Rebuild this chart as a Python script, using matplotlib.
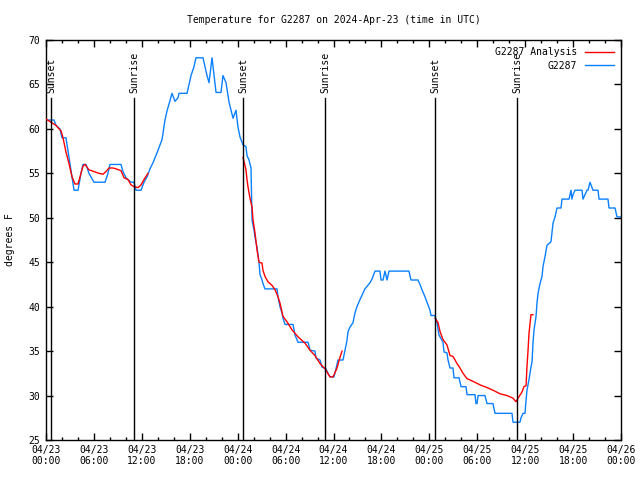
import matplotlib
matplotlib.use("Agg")
import matplotlib.pyplot as plt
import matplotlib.dates as mdates
from matplotlib.ticker import MultipleLocator
import pandas as pd

# ---------------- data (hours since 2024-04-23 00:00 UTC) ----------------
obs_hours = [0, 1.00, 1.25, 1.75, 2.00, 2.50, 3.01, 3.51, 4.01, 4.38, 4.63, 5.01, 5.38, 6.01,
             7.39, 7.76, 8.01, 9.39, 9.64, 10.02, 10.64, 11.02, 11.27, 11.90, 12.27, 12.65,
             13.02, 13.40, 13.90, 14.53, 14.90, 15.15, 15.53, 15.78, 16.15, 16.53, 16.65,
             17.66, 17.91, 18.16, 18.53, 18.78, 19.66, 19.91, 20.16, 20.41, 20.79, 21.04,
             21.29, 21.91, 22.16, 22.54, 22.92, 23.42, 23.79, 24.04, 24.29, 24.67, 25.04,
             25.17, 25.42, 25.67, 25.80, 26.05, 26.17, 26.42, 26.67, 26.80, 27.05, 27.17,
             27.42, 28.93, 29.05, 29.30, 29.55, 29.68, 29.93, 30.93, 31.18, 31.56, 32.81,
             33.06, 33.68, 33.81, 34.31, 34.56, 35.06, 35.31, 35.56, 36.06, 36.31, 36.56,
             37.19, 37.44, 37.69, 37.82, 38.07, 38.44, 38.69, 38.94, 39.32, 39.69, 39.94,
             40.57, 40.82, 41.20, 41.82, 41.95, 42.20, 42.45, 42.70, 42.95, 45.45, 45.70,
             46.58, 46.83, 47.08, 47.46, 47.71, 48.08, 48.21, 48.71, 48.96, 49.21, 49.34,
             49.71, 49.84, 50.21, 50.34, 50.59, 50.96, 51.09, 51.72, 51.97, 52.59, 52.72,
             53.72, 53.84, 53.97, 54.10, 54.97, 55.22, 55.97, 56.22, 58.35, 58.48, 59.35,
             59.48, 59.73, 59.98, 60.11, 60.23, 60.48, 60.73, 60.86, 60.98, 61.11, 61.36,
             61.48, 61.61, 61.86, 62.11, 62.23, 62.48, 62.73, 63.23, 63.36, 63.49, 63.74,
             63.99, 64.49, 64.61, 65.49, 65.61, 65.74, 65.86, 65.99, 66.24, 67.12, 67.24,
             67.49, 67.74, 67.87, 68.12, 68.37, 68.49, 69.12, 69.25, 70.37, 70.50, 71.25,
             71.50, 72.00]
obs_temp = [61, 61, 60.4, 60, 59, 59, 56, 53.1, 53.1, 55, 56, 56, 55, 54,
            54, 55, 56, 56, 55.2, 54.5, 54, 54, 53.1, 53.1, 54, 54.6,
            55.5, 56.2, 57.3, 58.8, 61, 62, 63.2, 64, 63.1, 63.5, 64,
            64, 65, 66, 67, 68, 68, 67, 66, 65.2, 68, 66,
            64.1, 64.1, 66, 65.2, 63, 61.2, 62.1, 60.2, 59.1, 58.2, 58,
            57, 56.5, 55.6, 49.7, 48.6, 47.8, 46.7, 45, 43.6, 43, 42.6,
            42, 42, 41.1, 40, 39.3, 38.7, 38, 38, 36.8, 36, 36,
            35.1, 35, 34.2, 34, 33.2, 33, 32.5, 32.1, 32.1, 33, 34,
            34, 35.1, 36.2, 37.2, 37.7, 38.2, 39.3, 40, 40.8, 41.5, 42,
            42.7, 43.1, 44, 44, 43, 43, 44, 43, 44, 44, 43,
            43, 42.5, 41.9, 41.1, 40.5, 39.6, 39, 39, 38.2, 36.8, 36.6,
            36, 34.9, 34.8, 34, 33.1, 33.1, 32, 32, 31, 31, 30.1,
            30.1, 29.1, 29.1, 30, 30, 29.1, 29.1, 28, 28, 27, 27,
            27.5, 28, 28, 29.5, 30.6, 31.8, 33.2, 33.8, 35.9, 37.4, 38.9,
            40.4, 41.5, 42.6, 43.4, 44.5, 45.6, 46.9, 47.3, 48.3, 49.4, 50.1,
            51.1, 51.1, 52.1, 52.1, 52.6, 53.1, 52.1, 52.6, 53.1, 53.1, 52.1,
            52.6, 53.1, 53.1, 54, 53.4, 53.1, 53.1, 52.1, 52.1, 51.1, 51.1,
            50.1, 50.1]

ana1_hours = [0, 1.25, 1.63, 1.88, 2.13, 2.50, 2.88, 3.26, 3.63, 4.01, 4.26, 4.63, 4.88,
              5.38, 6.01, 6.64, 7.14, 7.51, 7.89, 8.39, 8.77, 9.39, 9.77, 10.27, 10.64,
              11.02, 11.52, 11.90, 12.27, 12.77]
ana1_temp = [61.1, 60.4, 60, 59.8, 59, 57.4, 56.1, 54.6, 53.8, 53.8, 54.6, 55.8, 56,
             55.4, 55.2, 55, 54.9, 55.2, 55.6, 55.6, 55.5, 55.3, 54.5, 54.3, 53.7,
             53.5, 53.4, 53.7, 54.3, 55]
ana2_hours = [24.67, 25.04, 25.17, 25.29, 25.54, 25.80, 25.92, 26.17, 26.42, 26.67, 27.05,
              27.17, 27.42, 27.80, 28.30, 28.68, 29.05, 29.30, 29.68, 30.18, 30.80, 31.56,
              32.43, 33.06, 33.68, 34.31, 34.94, 35.56, 35.94, 36.44, 36.81, 37.07]
ana2_temp = [56.8, 55.4, 54.3, 53.5, 52.2, 51.2, 49.8, 48.3, 46.4, 45, 44.9,
             44.1, 43.4, 42.8, 42.4, 41.9, 41.1, 40.4, 38.9, 38.3, 37.4, 36.6,
             35.9, 35.1, 34.5, 33.6, 33, 32.1, 32.1, 33.1, 34.3, 35]
ana3_hours = [48.71, 49.09, 49.34, 49.71, 50.21, 50.59, 50.96, 51.47, 51.84, 52.22, 52.72,
              53.47, 54.35, 55.22, 55.97, 56.85, 57.73, 58.48, 58.85, 59.10, 59.60, 59.85,
              60.11, 60.23, 60.36, 60.48, 60.73, 60.98]
ana3_temp = [38.7, 38.2, 37.2, 36.3, 35.7, 34.5, 34.4, 33.6, 33.1, 32.5, 31.9,
             31.6, 31.2, 30.9, 30.6, 30.2, 30, 29.7, 29.3, 29.7, 30.4, 31,
             31.1, 33.3, 35.1, 37, 39.1, 39.1]

event_hours = [0.63, 11.02, 24.67, 34.94, 48.71, 58.98]
event_labels = ["Sunset", "Sunrise", "Sunset", "Sunrise", "Sunset", "Sunrise"]

base = pd.Timestamp("2024-04-23 00:00")
def to_t(hours):
    return [base + pd.Timedelta(hours=h) for h in hours]

# ---------------- figure ----------------
plt.rcParams['font.family'] = ['DejaVu Sans Mono', 'DejaVu Sans']
plt.rcParams['font.size'] = 7

fig = plt.figure(figsize=(6.4, 4.8), dpi=100)
ax = fig.add_axes([46/640, 40/480, (621-46)/640, 400/480])

red = '#ff0000'
blue = '#0a80ff'

first = True
for hh, tt in [(ana1_hours, ana1_temp), (ana2_hours, ana2_temp), (ana3_hours, ana3_temp)]:
    ax.plot(to_t(hh), tt, color=red, lw=1.0, label='G2287 Analysis' if first else None, zorder=3)
    first = False
ax.plot(to_t(obs_hours), obs_temp, color=blue, lw=1.0, label='G2287', zorder=2)

for h, lab in zip(event_hours, event_labels):
    t = base + pd.Timedelta(hours=h)
    ax.axvline(t, ymin=0, ymax=(440-98)/400, color='black', lw=1.0, zorder=4)
    ax.text(t, 0.8675, lab, rotation=90, ha='center', va='bottom',
            transform=ax.get_xaxis_transform(), fontsize=7)

ax.set_xlim(base, base + pd.Timedelta(hours=72))
ax.set_ylim(25, 70)
ax.yaxis.set_major_locator(MultipleLocator(5))
ax.xaxis.set_major_locator(mdates.HourLocator(byhour=[0, 6, 12, 18]))
ax.xaxis.set_minor_locator(mdates.HourLocator(byhour=range(0, 24, 2)))
ax.xaxis.set_major_formatter(mdates.DateFormatter('%m/%d\n%H:%M'))
ax.tick_params(axis='both', which='major', direction='in', length=5, width=1,
               top=True, right=True, labelsize=7)
ax.tick_params(axis='x', which='minor', direction='in', length=2.5, width=1, top=True)
ax.tick_params(axis='y', which='both', pad=4)
for lbl in ax.get_xticklabels():
    lbl.set_horizontalalignment('center')
    lbl.set_multialignment('center')
for sp in ax.spines.values():
    sp.set_linewidth(1.0)

ax.set_ylabel('degrees F', fontsize=7, labelpad=10)
ax.set_title('Temperature for G2287 on 2024-Apr-23 (time in UTC)', fontsize=7, pad=12)

ax.legend(loc='upper right', frameon=False, markerfirst=False, fontsize=7,
          handlelength=3.0, handletextpad=0.8, labelspacing=0.35,
          borderaxespad=0.55, borderpad=0.2)

fig.savefig('out.png', dpi=100)
